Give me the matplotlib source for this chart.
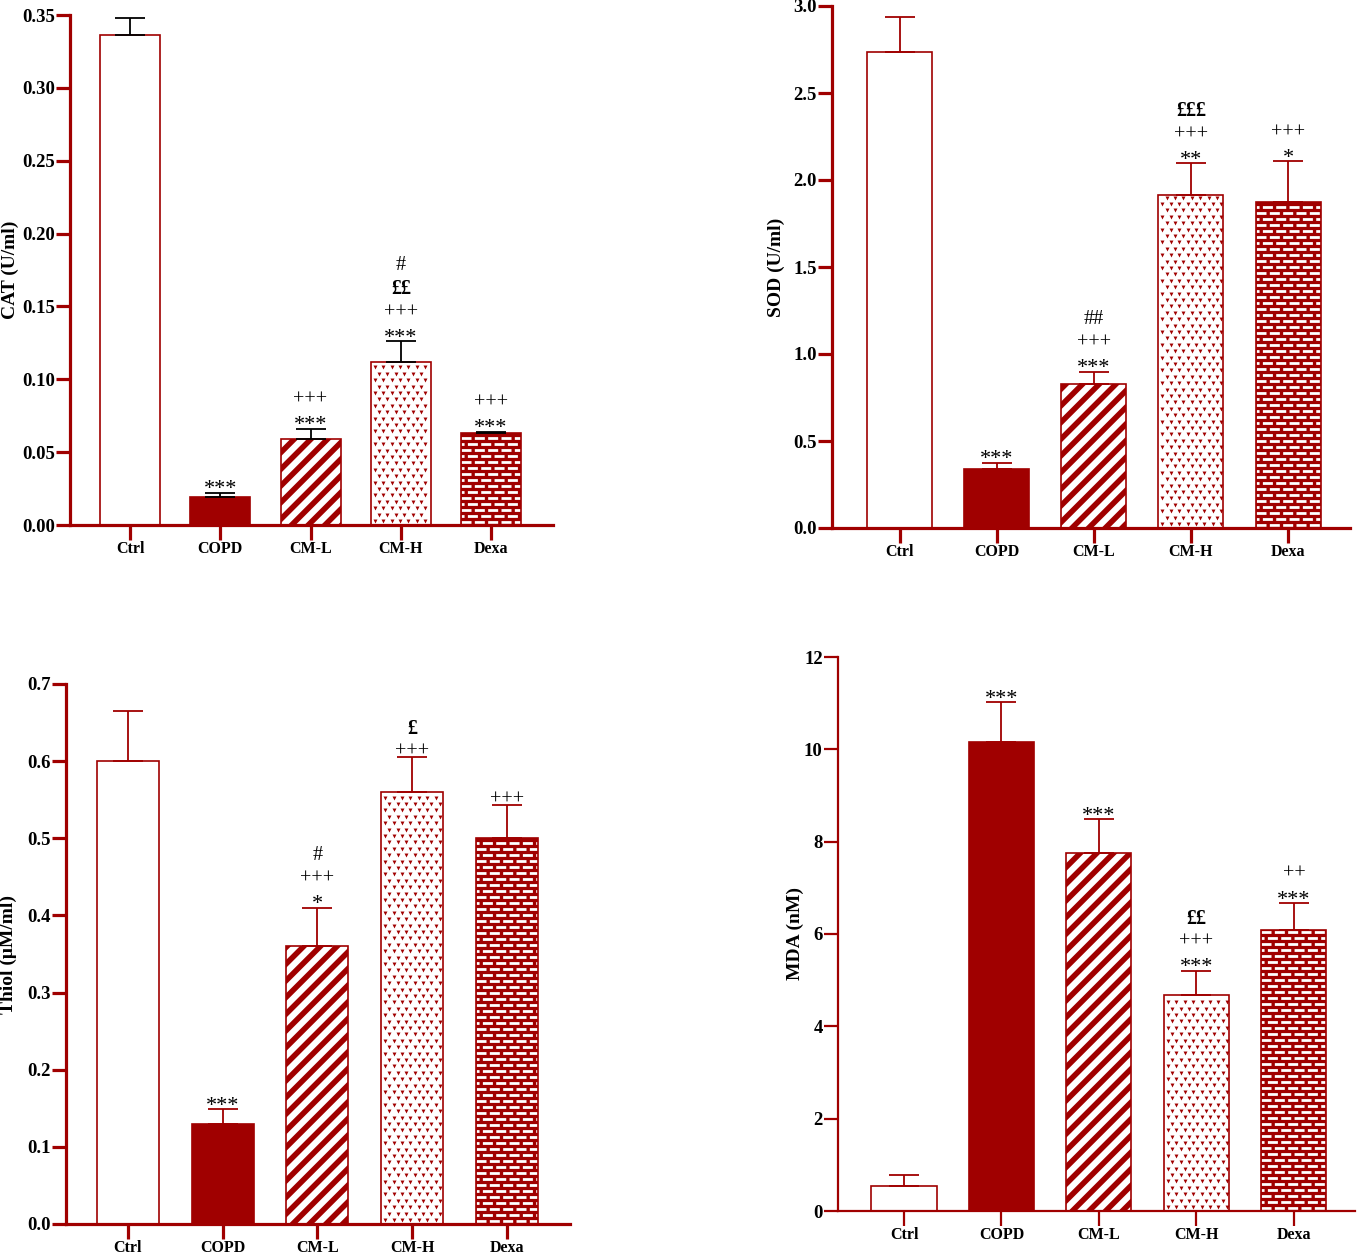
import matplotlib
matplotlib.use('Agg')
import numpy as np
from matplotlib import pyplot as plt

plt.rcParams['font.family'] = ['Liberation Serif', 'DejaVu Serif']
plt.rcParams['hatch.linewidth'] = 4.0
plt.rcParams['lines.scale_dashes'] = False

RED = '#a00000'
W, H = 1362, 1254

groups = ['Ctrl', 'COPD', 'CM-L', 'CM-H', 'Dexa']

cat_mean = [0.336, 0.019, 0.059, 0.112, 0.063]
cat_sem = [0.012, 0.003, 0.007, 0.014, 0.001]
cat_marks = [[], ['***'], ['***', '+++'], ['***', '+++', '££', '#'], ['***', '+++']]

sod_mean = [2.735, 0.34, 0.829, 1.911, 1.871]
sod_sem = [0.20, 0.034, 0.069, 0.185, 0.236]
sod_marks = [[], ['***'], ['***', '+++', '##'], ['**', '+++', '£££'], ['*', '+++']]

thiol_mean = [0.600, 0.130, 0.360, 0.560, 0.500]
thiol_sem = [0.065, 0.019, 0.050, 0.045, 0.043]
thiol_marks = [[], ['***'], ['*', '+++', '#'], ['+++', '£'], ['+++']]

mda_mean = [0.54, 10.16, 7.75, 4.68, 6.09]
mda_sem = [0.24, 0.86, 0.74, 0.52, 0.58]
mda_marks = [[], ['***'], ['***'], ['***', '+++', '££'], ['***', '++']]

fig = plt.figure(figsize=(W / 100, H / 100), dpi=100)


def px_rect(x0, x1, ytop, ybot):
    return [x0 / W, 1 - ybot / H, (x1 - x0) / W, (ybot - ytop) / H]


def brick_fill(ax, bar):
    # white dashed rows on red, every other row shifted
    x0, y0 = ax.transData.transform((bar.get_x(), 0))
    x1, y1 = ax.transData.transform((bar.get_x() + bar.get_width(), bar.get_height()))
    inv = ax.transData.inverted()
    k = 0
    y = y0 + 3
    while y < y1 - 1:
        yd = inv.transform((x0, y))[1]
        off = 0 if k % 2 == 0 else 5.0
        ln, = ax.plot([bar.get_x(), bar.get_x() + bar.get_width()], [yd, yd], color='white',
                      lw=2.0, dash_capstyle='butt', zorder=2.2)
        ln.set_linestyle((off, (7.2, 2.4)))
        ln.set_clip_path(bar)
        y += 6.0
        k += 1


def v_fill(ax, bar):
    # small red "v" marks on white
    x0, y0 = ax.transData.transform((bar.get_x(), 0))
    x1, y1 = ax.transData.transform((bar.get_x() + bar.get_width(), bar.get_height()))
    inv = ax.transData.inverted()
    pts = []
    k = 0
    y = y0 + 4
    while y < y1 - 2:
        xs = np.arange(x0 + 4 + (4.2 if k % 2 else 0), x1 - 2, 8.4)
        for xx in xs:
            pts.append(inv.transform((xx, y)))
        y += 6.4
        k += 1
    pts = np.array(pts)
    sc = ax.scatter(pts[:, 0], pts[:, 1], marker='v', s=8, color=RED, linewidths=0, zorder=2.2)
    sc.set_clip_path(bar)


def panel(rect, means, sems, marks, ylabel, ylim, yticks, yfmt, xlim, width,
          err_color, spine_w, label_x):
    ax = fig.add_axes(rect)
    x = np.arange(len(groups))
    ax.set_xlim(*xlim)
    ax.set_ylim(*ylim)
    bars = ax.bar(x, means, width=width, color='white', edgecolor='none', zorder=2)
    bars[1].set_facecolor(RED)
    bars[2].set_hatch('//')
    bars[2].set_edgecolor(RED)
    bars[2].set_linewidth(0)
    if hasattr(bars[2], 'set_hatch_linewidth'):
        bars[2].set_hatch_linewidth(4.0)
    bars[4].set_facecolor(RED)
    v_fill(ax, bars[3])
    brick_fill(ax, bars[4])
    ax.bar(x, means, width=width, fill=False, edgecolor=RED, linewidth=1.2, zorder=2.5)

    ax.errorbar(x, means, yerr=[np.zeros(len(x)), sems], fmt='none', ecolor=err_color,
                elinewidth=1.3, capsize=11, capthick=1.3, zorder=3)

    for i, lines in enumerate(marks):
        top = means[i] + sems[i]
        for j, s in enumerate(lines):
            vis = 8 + 23.5 * j
            star = '*' in s
            off = vis - 5 if star else vis - 3
            ax.annotate(s, xy=(i, top), xytext=(0, off), textcoords='offset pixels',
                        ha='center', va='center', fontsize=16 if star else 14.5,
                        fontweight='bold' if '£' in s else 'normal', color='black')

    for side in ['top', 'right']:
        ax.spines[side].set_visible(False)
    for side in ['left', 'bottom']:
        ax.spines[side].set_color(RED)
        ax.spines[side].set_linewidth(spine_w)
    ax.set_xticks(x)
    ax.set_xticklabels(groups, fontsize=11.5, fontweight='bold')
    ax.set_yticks(yticks)
    ax.set_yticklabels([yfmt % v for v in yticks], fontsize=13.5, fontweight='bold')
    ax.tick_params(axis='both', direction='out', color=RED, width=spine_w, length=10, pad=1)
    ax.tick_params(axis='x', length=11, pad=0.5)
    ax.set_ylabel(ylabel, fontsize=14, fontweight='bold')
    ax.yaxis.set_label_coords(label_x, 0.5)
    ax.patch.set_alpha(0)
    return ax


panel(px_rect(70, 553, 15, 525), cat_mean, cat_sem, cat_marks, 'CAT (U/ml)',
      (0, 0.35), np.arange(0, 0.351, 0.05), '%.2f', (-0.665, 4.687), 0.665,
      'black', 2.3, (19 - 70) / 483)

panel(px_rect(832, 1350, 6, 528), sod_mean, sod_sem, sod_marks, 'SOD (U/ml)',
      (0, 3.0), np.arange(0, 3.01, 0.5), '%.1f', (-0.70, 4.639), 0.67,
      RED, 2.3, (785 - 832) / 518)

panel(px_rect(66, 570, 684, 1224), thiol_mean, thiol_sem, thiol_marks, 'Thiol (μM/ml)',
      (0, 0.7), np.arange(0, 0.701, 0.1), '%.1f', (-0.654, 4.665), 0.654,
      RED, 2.3, (17 - 66) / 504)

panel(px_rect(838, 1355, 657, 1211), mda_mean, mda_sem, mda_marks, 'MDA (nM)',
      (0, 12), np.arange(0, 12.1, 2), '%d', (-0.677, 4.626), 0.667,
      RED, 1.6, (804 - 838) / 517)

fig.savefig('out.png', dpi=100, facecolor='white')
